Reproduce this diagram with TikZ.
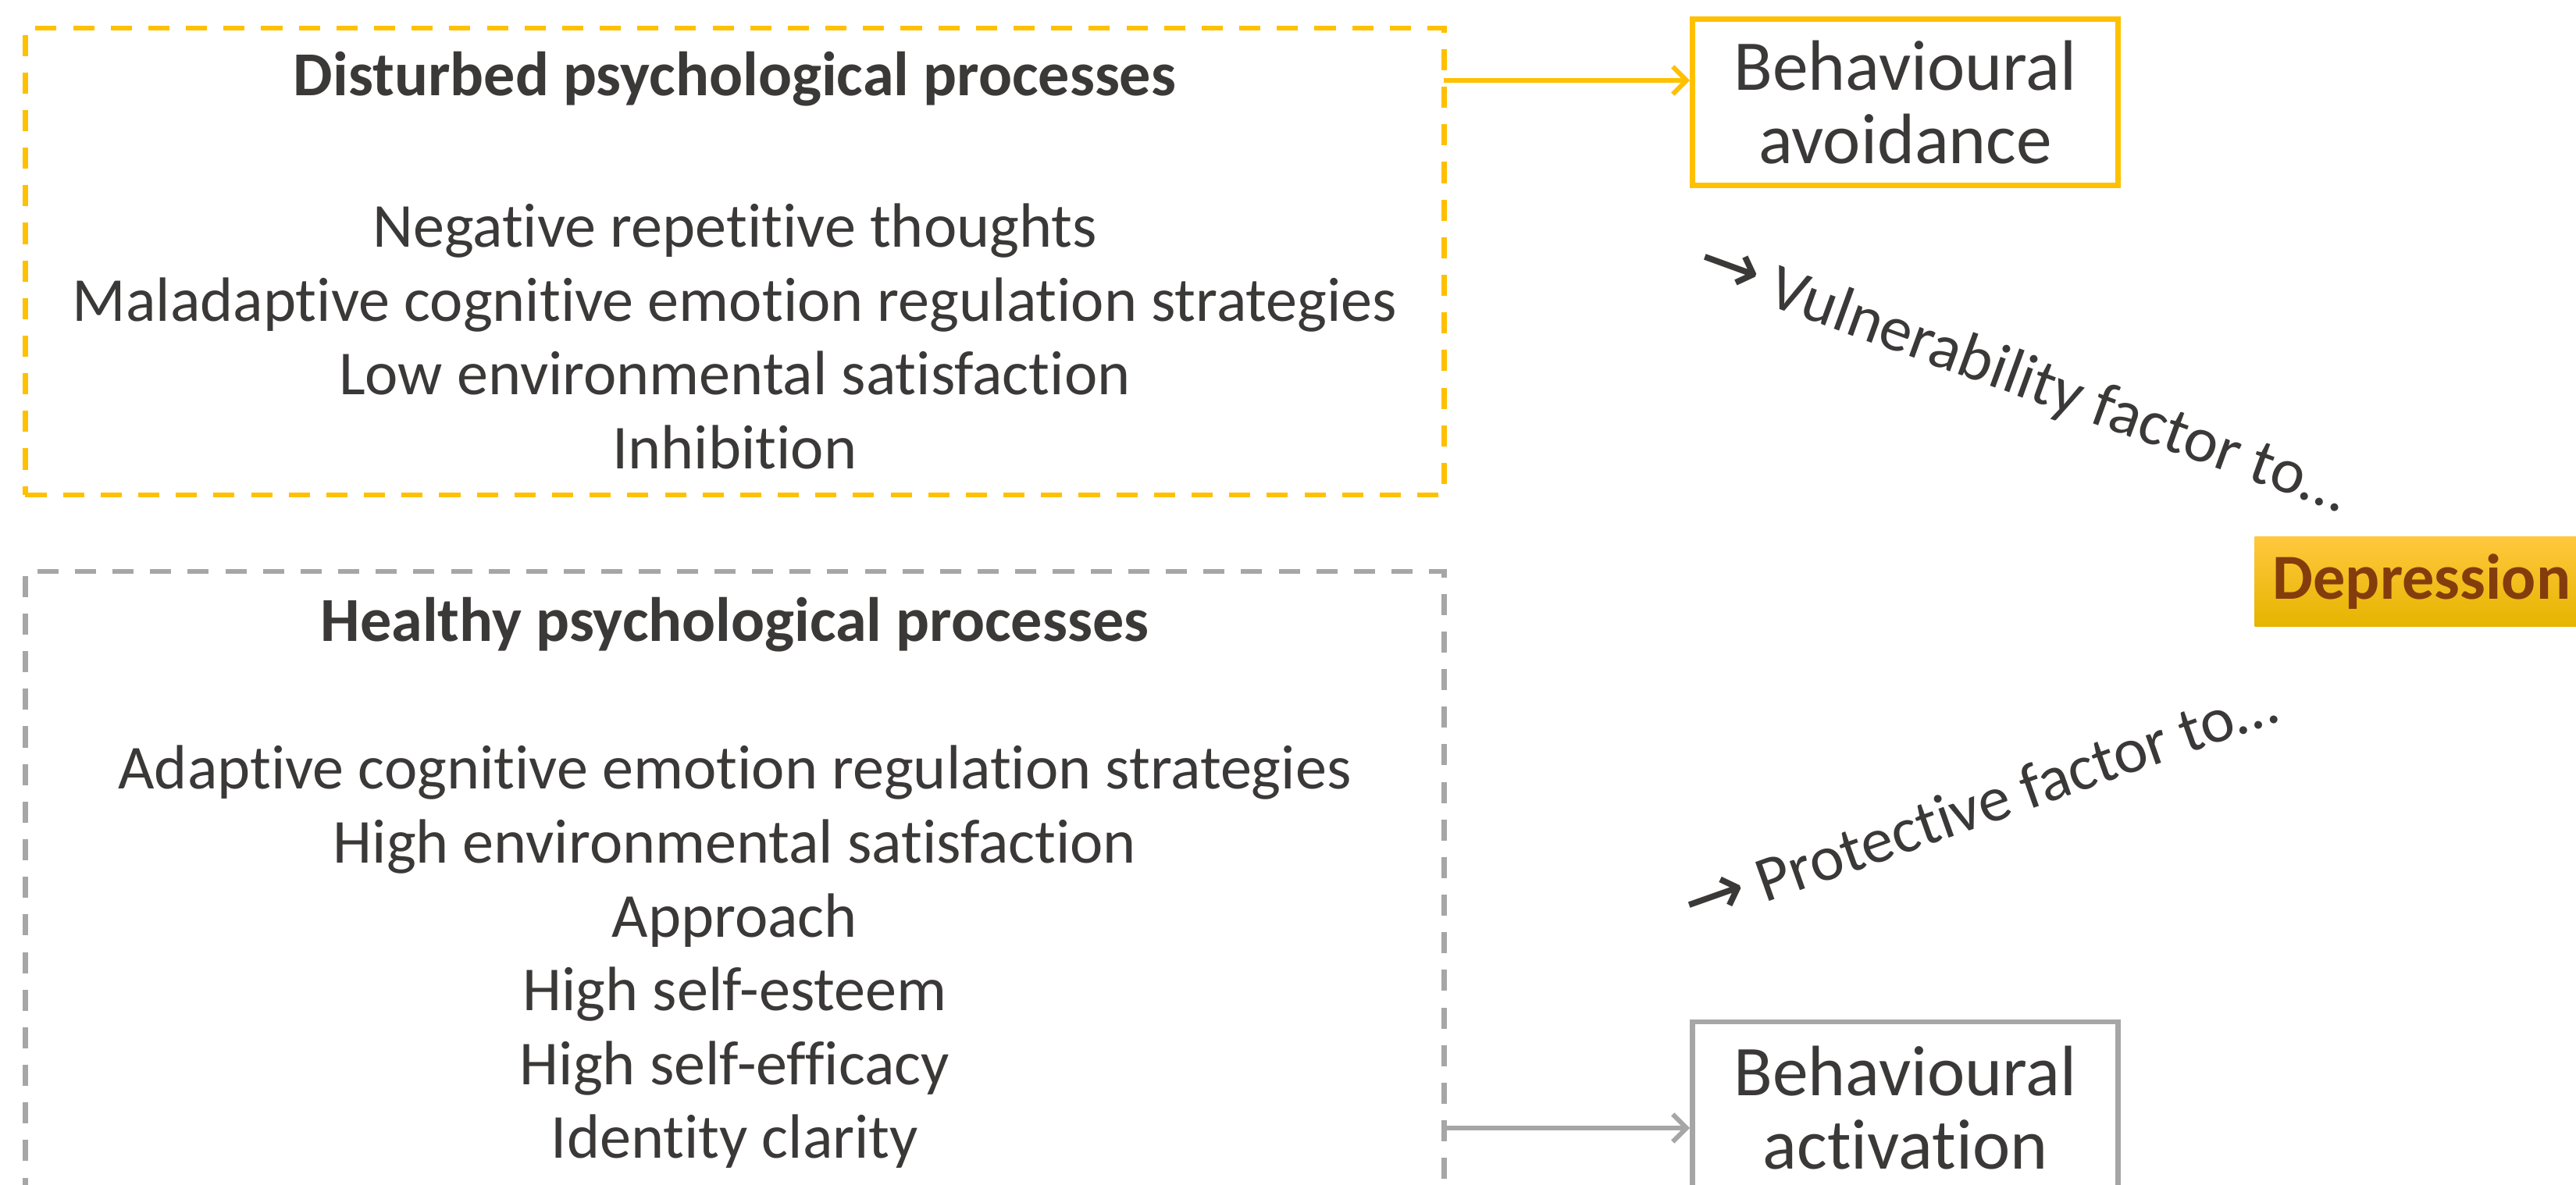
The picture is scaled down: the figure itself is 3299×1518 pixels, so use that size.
\documentclass[tikz,border=0pt]{standalone}
\usepackage{fontspec}
\setmainfont{Carlito}[Ligatures={NoCommon}]
\newfontfamily\arrowfont{DejaVu Sans}
\usetikzlibrary{arrows.meta}

\definecolor{gold}{HTML}{FFC000}
\definecolor{goldtop}{HTML}{FFC83D}
\definecolor{goldbot}{HTML}{E6B400}
\definecolor{midgray}{HTML}{A6A6A6}
\definecolor{ink}{HTML}{3B3838}
\definecolor{rust}{HTML}{843C0C}

\newcommand{\procfont}{\fontsize{22.8}{26.9}\selectfont}
\newcommand{\boxfont}{\fontsize{26}{26.5}\selectfont}
\newcommand{\tagfont}{\fontsize{23.4}{26}\selectfont}

\tikzset{
  frame/.style={draw=#1, line width=1.8pt, dash pattern=on 7.7pt off 6pt},
  outbox/.style={draw=#1, line width=1.9pt, align=center, text=ink, font=\boxfont},
  head/.style={text=ink, font=\procfont\bfseries},
  items/.style={text=ink, font=\procfont, align=center},
  factor/.style={text=ink, font=\tagfont},
  link/.style={draw=#1, line width=1.7pt, -{Straight Barb[length=5pt,width=10pt]}},
  dep/.style={top color=goldtop, middle color=gold, bottom color=goldbot,
    minimum height=1.14cm, text width=4cm, inner xsep=0.23cm, align=left,
    text=rust, font=\tagfont\bfseries},
}

\begin{document}
\begin{tikzpicture}[x=0.01cm, y=-0.01cm]

  \useasboundingbox (0,0) rectangle (3299,1518);
  \clip (0,0) rectangle (3299,1518);

  % dashed frames
  \node[frame=gold, minimum width=18.16cm, minimum height=5.97cm] (disturbed) at (941,335) {};
  \node[frame=midgray, minimum width=18.16cm, minimum height=8.40cm] (healthy) at (941,1152) {};

  % titles and lists
  \node[head] (dtitle) at (941,101) {Disturbed psychological processes};
  \node[items] (dlist) at (941,431) {Negative repetitive thoughts\\
    Maladaptive cognitive emotion regulation strategies\\
    Low environmental satisfaction\\
    Inhibition};
  \node[head] (htitle) at (941,800) {Healthy psychological processes};
  \node[items] (hlist) at (941,1226) {Adaptive cognitive emotion regulation strategies\\
    High environmental satisfaction\\
    Approach\\
    High self-esteem\\
    High self-efficacy\\
    Identity clarity};

  % behaviour boxes
  \node[outbox=gold, minimum width=5.45cm, minimum height=2.13cm] (avoid) at (2440,131) {Behavioural\\avoidance};
  \node[outbox=midgray, minimum width=5.45cm, minimum height=2.2cm] (activ) at (2440,1419) {Behavioural\\activation};

  % arrows
  \coordinate (avoidin) at (1849,103);
  \coordinate (activin) at (1849,1445);
  \draw[link=gold] (avoidin) -- (avoidin -| avoid.west);
  \draw[link=midgray] (activin) -- (activin -| activ.west);

  % outcome
  \node[dep, anchor=west] (depr) at (2887,745) {Depression};

  % factor labels
  \node[factor, rotate=-20] (vuln) at (2590,486) {{\arrowfont\fontsize{27}{27}\selectfont→} Vulnerability factor to…};
  \node[factor, rotate=19.5] (prot) at (2535,1030) {{\arrowfont\fontsize{27}{27}\selectfont→} Protective factor to…};

\end{tikzpicture}
\end{document}
